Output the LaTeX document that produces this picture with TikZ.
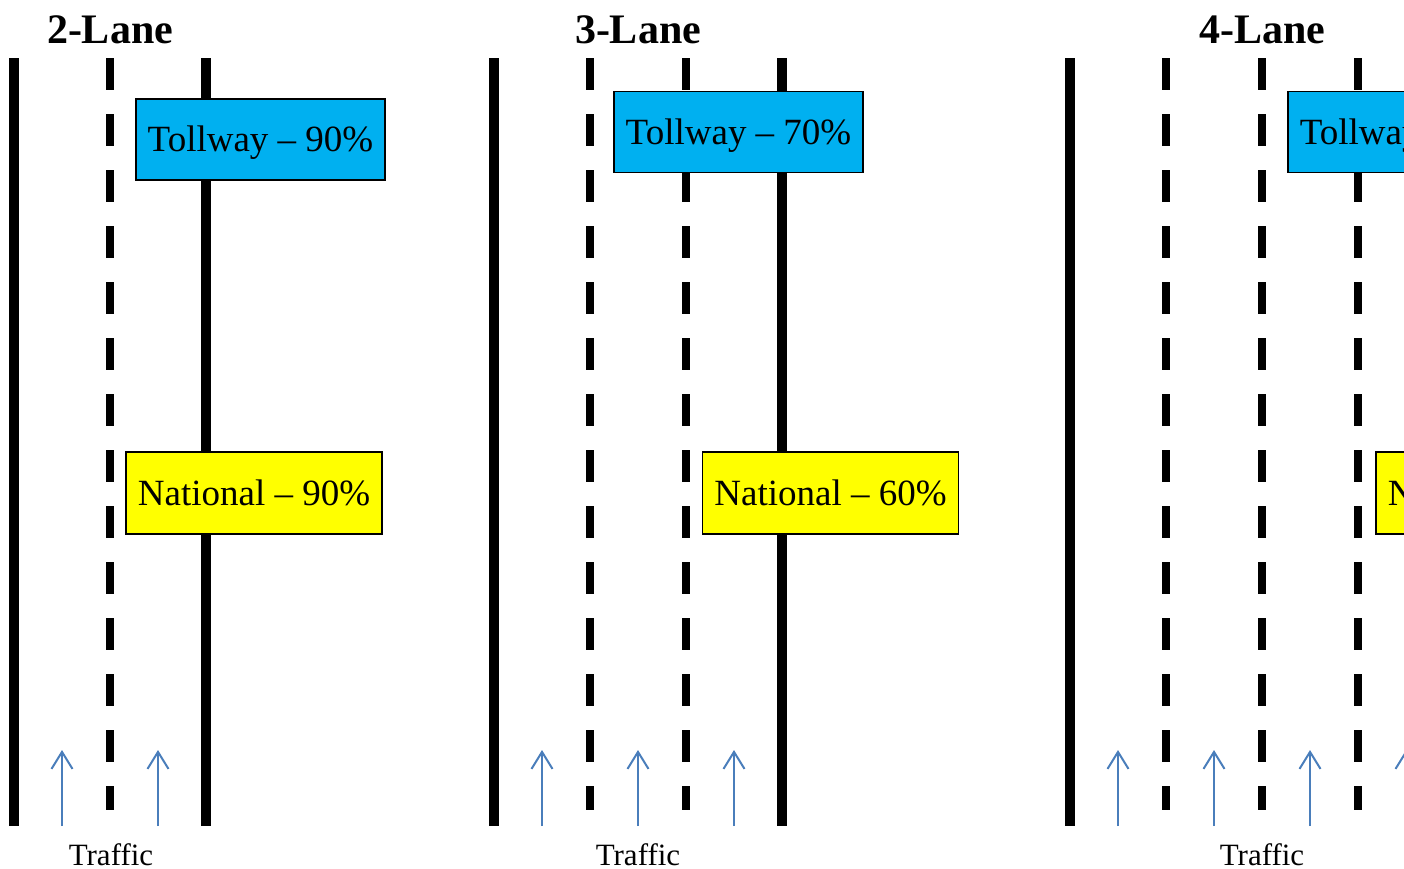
\documentclass[tikz,border=0pt]{standalone}
\usepackage{fontspec}
\setmainfont{Liberation Serif}
\usetikzlibrary{arrows.meta}
\definecolor{tollblue}{HTML}{00B0F0}
\definecolor{natyellow}{HTML}{FFFF00}
\definecolor{flowblue}{HTML}{4A7EBB}

\begin{document}
\begin{tikzpicture}[x=1pt,y=-1pt,
  edgeline/.style={line width=10pt},
  laneline/.style={line width=8pt, dash pattern=on 32pt off 24pt},
  flow/.style={draw=flowblue, line width=2pt,
    -{Straight Barb[length=17pt,width=21pt,line width=2pt]}},
  title/.style={font=\fontsize{42}{46}\selectfont\bfseries, anchor=base},
  trafficlabel/.style={font=\fontsize{31}{34}\selectfont, anchor=base},
  sign/.style={draw=black, line width=1.6pt, inner xsep=12pt, inner ysep=0pt,
    font=\fontsize{37}{40}\selectfont, text height=24pt, text depth=0pt},
  tollsign/.style={sign, fill=tollblue, minimum width=247pt, minimum height=81pt},
  natsign/.style={sign, fill=natyellow, minimum width=254pt, minimum height=82pt},
]
\useasboundingbox (0,0) rectangle (1404,868);
\clip (0,0) rectangle (1404,868);

% ---------- 2-lane road ----------
\node[title] (t2) at (110,43) {2-Lane};
\draw[edgeline] (14,58) -- (14,826);
\draw[edgeline] (206,58) -- (206,826);
\draw[laneline] (110,58) -- (110,810);
\foreach \x in {62,158} \draw[flow] (\x,826) -- (\x,750);
\node[trafficlabel] (f2) at (111,865) {Traffic};
\node[tollsign] (toll2) at (260.5,139.5) {Tollway – 90\%};
\node[natsign] (nat2) at (254,493) {National – 90\%};

% ---------- 3-lane road ----------
\node[title] (t3) at (638,43) {3-Lane};
\draw[edgeline] (494,58) -- (494,826);
\draw[edgeline] (782,58) -- (782,826);
\foreach \x in {590,686} \draw[laneline] (\x,58) -- (\x,810);
\foreach \x in {542,638,734} \draw[flow] (\x,826) -- (\x,750);
\node[trafficlabel] (f3) at (638,865) {Traffic};
\node[tollsign] (toll3) at (738.5,132) {Tollway – 70\%};
\node[natsign] (nat3) at (830.5,493) {National – 60\%};

% ---------- 4-lane road ----------
\node[title] (t4) at (1262,43) {4-Lane};
\draw[edgeline] (1070,58) -- (1070,826);
\foreach \x in {1166,1262,1358} \draw[laneline] (\x,58) -- (\x,810);
\foreach \x in {1118,1214,1310,1406} \draw[flow] (\x,826) -- (\x,750);
\node[trafficlabel] (f4) at (1262,865) {Traffic};
\node[tollsign, anchor=west, text width=223pt, align=left] (toll4) at (1287,132) {Tollway};
\node[natsign, anchor=west, text width=230pt, align=left] (nat4) at (1375,493) {National};
\end{tikzpicture}
\end{document}
